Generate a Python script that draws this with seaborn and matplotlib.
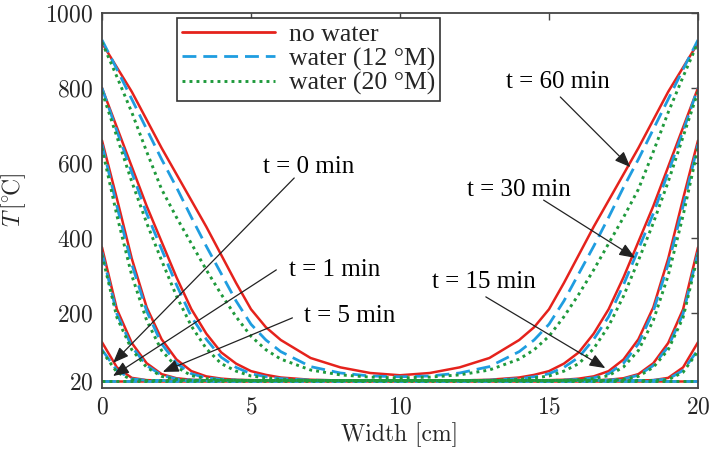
import numpy as np
import pandas as pd
import matplotlib
matplotlib.use("Agg")
import matplotlib.pyplot as plt
import seaborn as sns
from matplotlib.lines import Line2D

# ---------------- data (half profile, symmetric about x = 10 cm) ----------------
X_HALF = [0, 0.5, 1, 1.5, 2, 2.5, 3, 3.5, 4, 4.5, 5, 5.5, 6, 7, 8, 9, 10]
TIMES = ["t = 0 min", "t = 1 min", "t = 5 min", "t = 15 min", "t = 30 min", "t = 60 min"]
SERIES = ["no water", "water (12 °M)", "water (20 °M)"]

RED_T0 = [20, 20, 20, 20, 20, 20, 20, 20, 20, 20, 20, 20, 20, 20, 20, 20, 20]
RED_T1 = [122, 55, 27, 21, 20, 20, 20, 20, 20, 20, 20, 20, 20, 20, 20, 20, 20]
RED_T5 = [375, 210, 120, 66, 37, 26, 22, 20.5, 20, 20, 20, 20, 20, 20, 20, 20, 20]
RED_T15 = [660, 505, 345, 215, 130, 76, 45, 31, 25, 22, 21, 20.5, 20, 20, 20, 20, 20]
RED_T30 = [800, 695, 590, 485, 390, 295, 210, 145, 95, 65, 45, 35, 28, 22, 20, 20, 20]
RED_T60 = [920, 855, 790, 715, 640, 570, 500, 430, 355, 280, 210, 162, 128, 80, 55, 40, 34]

BLUE_T0 = [20, 20, 20, 20, 20, 20, 20, 20, 20, 20, 20, 20, 20, 20, 20, 20, 20]
BLUE_T1 = [102, 47, 24, 20.5, 20, 20, 20, 20, 20, 20, 20, 20, 20, 20, 20, 20, 20]
BLUE_T5 = [362, 198, 110, 60, 34, 24, 21, 20, 20, 20, 20, 20, 20, 20, 20, 20, 20]
BLUE_T15 = [650, 485, 330, 205, 118, 66, 38, 27, 23, 21, 20, 20, 20, 20, 20, 20, 20]
BLUE_T30 = [800, 685, 575, 465, 370, 275, 190, 130, 82, 55, 38, 30, 25, 21, 20, 20, 20]
BLUE_T60 = [928, 850, 770, 690, 610, 535, 455, 378, 305, 232, 170, 128, 97, 57, 40, 32, 30]

GREEN_T0 = [20, 20, 20, 20, 20, 20, 20, 20, 20, 20, 20, 20, 20, 20, 20, 20, 20]
GREEN_T1 = [98, 42, 22, 20, 20, 20, 20, 20, 20, 20, 20, 20, 20, 20, 20, 20, 20]
GREEN_T5 = [355, 188, 102, 55, 31, 23, 20.5, 20, 20, 20, 20, 20, 20, 20, 20, 20, 20]
GREEN_T15 = [640, 460, 300, 180, 100, 56, 33, 25, 22, 20.5, 20, 20, 20, 20, 20, 20, 20]
GREEN_T30 = [790, 670, 550, 440, 340, 245, 165, 105, 65, 45, 32, 27, 23, 20, 20, 20, 20]
GREEN_T60 = [922, 830, 735, 630, 530, 455, 385, 315, 250, 190, 138, 102, 77, 48, 35, 29, 27]

X_TICKS = [0, 5, 10, 15, 20]
Y_TICKS = [20, 200, 400, 600, 800, 1000]

PROFILES = {
    "no water": [RED_T0, RED_T1, RED_T5, RED_T15, RED_T30, RED_T60],
    "water (12 °M)": [BLUE_T0, BLUE_T1, BLUE_T5, BLUE_T15, BLUE_T30, BLUE_T60],
    "water (20 °M)": [GREEN_T0, GREEN_T1, GREEN_T5, GREEN_T15, GREEN_T30, GREEN_T60],
}

# build full symmetric profiles
x_full = list(X_HALF) + [20 - v for v in reversed(X_HALF[:-1])]
rows = []
for s in SERIES:
    for t, half in zip(TIMES, PROFILES[s]):
        full = list(half) + list(reversed(half[:-1]))
        for xv, tv in zip(x_full, full):
            rows.append({"x": xv, "T": tv, "time": t, "series": s})
df = pd.DataFrame(rows)

# ---------------- style ----------------
sns.set_style("white")
plt.rcParams["mathtext.fontset"] = "cm"
plt.rcParams["axes.formatter.use_mathtext"] = True

RED = "#e5221c"
BLUE = "#1f9de0"
GREEN = "#1f9a3c"
palette = {"no water": RED, "water (12 °M)": BLUE, "water (20 °M)": GREEN}
dashes = {"no water": "", "water (12 °M)": (5, 2.5), "water (20 °M)": (1, 1.4)}
lws = {"no water": 1.8, "water (12 °M)": 2.0, "water (20 °M)": 2.1}

fig = plt.figure(figsize=(7.09, 4.5), dpi=100)
ax = fig.add_axes([102 / 709, 1 - 388 / 450, 596 / 709, 375 / 450])

for s in SERIES:
    sub = df[df["series"] == s]
    sns.lineplot(data=sub, x="x", y="T", units="time", estimator=None, sort=False,
                 color=palette[s], lw=lws[s], ax=ax, legend=False)
# apply dash styles per series
lines = ax.get_lines()
idx = 0
for s in SERIES:
    for _ in TIMES:
        ln = lines[idx]
        if dashes[s]:
            ln.set_dashes(dashes[s])
        idx += 1

ax.set_xlim(0, 20)
ax.set_ylim(0, 1000)
ax.set_xticks(X_TICKS)
ax.set_yticks(Y_TICKS)
ax.tick_params(direction="in", top=True, right=True, length=5, width=1,
               color="#444444", labelsize=17, labelfontfamily="cmr10", pad=6)
for sp in ax.spines.values():
    sp.set_color("#444444")
    sp.set_linewidth(1.3)

ax.set_xlabel("Width [cm]", fontsize=17, family="cmr10", labelpad=3)
ax.set_ylabel(r"$T\,[{}^{\circ}\!\mathrm{C}]$", fontsize=17)
ax.yaxis.set_label_coords(-0.125, 0.5)

# legend
handles = [
    Line2D([], [], color=RED, lw=2.0),
    Line2D([], [], color=BLUE, lw=lws["water (12 °M)"], dashes=dashes["water (12 °M)"]),
    Line2D([], [], color=GREEN, lw=lws["water (20 °M)"], dashes=dashes["water (20 °M)"]),
]
leg = ax.legend(handles, SERIES, loc="upper left", bbox_to_anchor=(0.126, 0.987),
                borderaxespad=0, frameon=True, fancybox=False, framealpha=1,
                edgecolor="#333333", handlelength=3.6, handletextpad=0.55,
                labelspacing=0.05, borderpad=0.2,
                prop={"family": "Liberation Serif", "size": 18.5})
leg.get_frame().set_linewidth(1.2)

# annotations
ann_font = {"family": "Liberation Serif", "size": 18, "color": "black"}
arrow = dict(arrowstyle="-|>,head_length=0.8,head_width=0.32", mutation_scale=12,
             lw=0.9, color="#222222", shrinkA=0, shrinkB=0)

ax.text(6.95, 590, "t = 0 min", ha="center", va="center", **ann_font)
ax.text(7.8, 315, "t = 1 min", ha="center", va="center", **ann_font)
ax.text(8.3, 192, "t = 5 min", ha="center", va="center", **ann_font)
ax.text(15.3, 816, "t = 60 min", ha="center", va="center", **ann_font)
ax.text(14.0, 528, "t = 30 min", ha="center", va="center", **ann_font)
ax.text(12.8, 282, "t = 15 min", ha="center", va="center", **ann_font)

ax.annotate("", xy=(0.37, 67), xytext=(6.45, 560), arrowprops=arrow)
ax.annotate("", xy=(0.37, 32), xytext=(5.85, 315), arrowprops=arrow)
ax.annotate("", xy=(2.04, 43), xytext=(6.39, 187), arrowprops=arrow)
ax.annotate("", xy=(17.73, 589), xytext=(15.38, 776), arrowprops=arrow)
ax.annotate("", xy=(17.89, 347), xytext=(14.82, 501), arrowprops=arrow)
ax.annotate("", xy=(16.89, 53), xytext=(12.88, 243), arrowprops=arrow)

fig.savefig("out.png", dpi=100)
